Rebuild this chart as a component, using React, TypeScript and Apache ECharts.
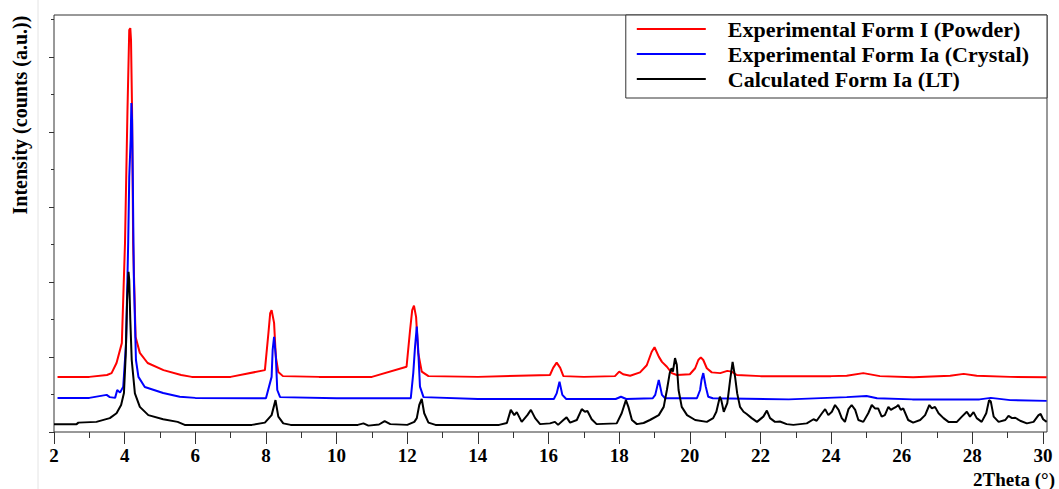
import React, { useEffect, useRef } from 'react';
import * as echarts from 'echarts';

const SERIES_NAMES = [
  'Experimental Form I (Powder)',
  'Experimental Form Ia (Crystal)',
  'Calculated Form Ia (LT)',
];
const SERIES_COLORS = ['#ff0000', '#0000ff', '#000000'];

const X_TITLE = '2Theta (°)';
const Y_TITLE = 'Intensity (counts (a.u.))';

// [2Theta, intensity (a.u.)]
const powderForm1: [number, number][] = [
  [2.1, 1.47], [3.0, 1.47], [3.5, 1.52], [3.63, 1.57], [3.77, 1.84], [3.92, 2.37], [4.01, 5.04],
  [4.08, 8.59], [4.13, 10.72], [4.16, 10.77], [4.18, 10.45], [4.21, 8.59], [4.24, 5.04], [4.31, 2.53],
  [4.43, 2.11], [4.65, 1.84], [5.1, 1.65], [5.6, 1.52], [5.9, 1.47], [7.0, 1.47], [7.97, 1.65],
  [8.07, 2.64], [8.12, 3.17], [8.16, 3.25], [8.23, 2.91], [8.28, 2.0], [8.35, 1.6], [8.48, 1.49],
  [9.5, 1.47], [11.0, 1.47], [11.98, 1.74], [12.08, 2.72], [12.14, 3.25], [12.19, 3.37], [12.25, 3.07],
  [12.31, 2.11], [12.41, 1.61], [12.6, 1.49], [14.0, 1.47], [16.04, 1.52], [16.13, 1.71], [16.23, 1.85],
  [16.33, 1.71], [16.42, 1.49], [17.0, 1.47], [17.88, 1.49], [18.0, 1.61], [18.11, 1.54], [18.31, 1.5],
  [18.59, 1.59], [18.78, 1.78], [18.92, 2.14], [19.0, 2.26], [19.12, 2.01], [19.21, 1.87], [19.35, 1.74],
  [19.49, 1.57], [19.63, 1.52], [20.0, 1.54], [20.15, 1.7], [20.24, 1.92], [20.31, 1.99], [20.38, 1.92],
  [20.48, 1.7], [20.62, 1.59], [20.86, 1.57], [21.06, 1.63], [21.18, 1.61], [21.33, 1.52], [22.0, 1.49],
  [22.84, 1.49], [24.0, 1.49], [24.44, 1.5], [24.91, 1.57], [25.38, 1.49], [26.32, 1.46], [27.37, 1.5],
  [27.75, 1.55], [28.12, 1.5], [29.07, 1.47], [30.1, 1.46],
];

const crystalForm1a: [number, number][] = [
  [2.1, 0.91], [3.0, 0.91], [3.49, 0.99], [3.58, 0.93], [3.73, 0.91], [3.79, 1.12], [3.87, 1.05],
  [3.96, 1.21], [4.04, 2.37], [4.1, 5.04], [4.13, 6.8], [4.17, 7.79], [4.19, 8.77], [4.21, 8.32],
  [4.23, 6.8], [4.26, 4.13], [4.32, 1.92], [4.39, 1.47], [4.57, 1.2], [5.09, 1.04], [5.56, 0.94],
  [6.0, 0.91], [8.0, 0.9], [8.16, 1.47], [8.19, 2.19], [8.23, 2.54], [8.28, 2.01], [8.32, 1.12],
  [8.4, 0.93], [10.0, 0.9], [12.1, 0.9], [12.17, 1.57], [12.22, 2.27], [12.27, 2.81], [12.31, 2.19],
  [12.36, 1.21], [12.46, 0.93], [14.0, 0.88], [16.15, 0.88], [16.23, 1.03], [16.31, 1.34], [16.39, 0.99],
  [16.5, 0.88], [17.9, 0.88], [18.05, 0.94], [18.2, 0.88], [18.95, 0.9], [19.02, 0.99], [19.12, 1.39],
  [19.21, 0.99], [19.3, 0.9], [20.2, 0.9], [20.29, 1.12], [20.33, 1.39], [20.38, 1.57], [20.45, 1.21],
  [20.52, 0.94], [20.65, 0.9], [22.8, 0.87], [24.44, 0.93], [25.0, 0.96], [25.3, 0.9], [26.3, 0.87],
  [28.2, 0.87], [28.52, 0.91], [29.07, 0.85], [30.1, 0.83],
];

const calculatedForm1a: [number, number][] = [
  [2.0, 0.21], [2.64, 0.21], [2.69, 0.25], [3.2, 0.27], [3.58, 0.37], [3.77, 0.5], [3.9, 0.72],
  [3.98, 1.04], [4.03, 2.05], [4.07, 3.52], [4.11, 4.27], [4.13, 4.05], [4.16, 2.99], [4.2, 1.92],
  [4.29, 1.03], [4.43, 0.67], [4.67, 0.45], [5.09, 0.34], [5.5, 0.27], [5.7, 0.19], [7.6, 0.19],
  [7.97, 0.25], [8.16, 0.45], [8.27, 0.85], [8.35, 0.41], [8.49, 0.23], [8.7, 0.19], [10.6, 0.19],
  [10.76, 0.23], [10.9, 0.17], [11.2, 0.2], [11.36, 0.29], [11.52, 0.21], [12.0, 0.19], [12.2, 0.27],
  [12.27, 0.37], [12.34, 0.72], [12.41, 0.88], [12.48, 0.5], [12.6, 0.25], [12.8, 0.19], [14.6, 0.19],
  [14.82, 0.24], [14.93, 0.59], [15.03, 0.45], [15.1, 0.53], [15.24, 0.27], [15.4, 0.45], [15.5, 0.59],
  [15.62, 0.37], [15.76, 0.21], [16.04, 0.23], [16.18, 0.27], [16.27, 0.19], [16.42, 0.32], [16.51, 0.39],
  [16.61, 0.25], [16.8, 0.32], [16.94, 0.61], [17.03, 0.54], [17.1, 0.56], [17.22, 0.34], [17.36, 0.21],
  [17.93, 0.23], [18.07, 0.5], [18.19, 0.85], [18.26, 0.67], [18.36, 0.32], [18.5, 0.21], [18.69, 0.24],
  [18.87, 0.32], [19.12, 0.45], [19.26, 0.67], [19.35, 1.12], [19.43, 1.57], [19.48, 1.7], [19.52, 1.61],
  [19.58, 1.97], [19.63, 1.79], [19.68, 1.12], [19.77, 0.67], [19.92, 0.45], [20.15, 0.32], [20.48, 0.27],
  [20.66, 0.37], [20.75, 0.54], [20.85, 0.94], [20.89, 0.85], [20.96, 0.54], [21.06, 0.77], [21.14, 1.39],
  [21.21, 1.87], [21.28, 1.47], [21.34, 1.03], [21.42, 0.67], [21.52, 0.54], [21.61, 0.48], [21.75, 0.37],
  [21.9, 0.27], [22.08, 0.41], [22.18, 0.57], [22.27, 0.37], [22.41, 0.27], [22.55, 0.28], [22.74, 0.21],
  [22.93, 0.19], [23.31, 0.23], [23.5, 0.34], [23.59, 0.3], [23.74, 0.5], [23.83, 0.61], [23.92, 0.45],
  [24.02, 0.54], [24.11, 0.72], [24.21, 0.59], [24.3, 0.37], [24.39, 0.27], [24.49, 0.61], [24.58, 0.72],
  [24.68, 0.59], [24.77, 0.32], [24.91, 0.27], [25.05, 0.5], [25.15, 0.72], [25.24, 0.63], [25.33, 0.63],
  [25.43, 0.41], [25.52, 0.45], [25.62, 0.67], [25.69, 0.59], [25.76, 0.63], [25.84, 0.67], [25.9, 0.72],
  [25.97, 0.59], [26.04, 0.63], [26.18, 0.32], [26.32, 0.25], [26.52, 0.32], [26.66, 0.45], [26.78, 0.72],
  [26.85, 0.63], [26.94, 0.67], [27.04, 0.5], [27.18, 0.37], [27.32, 0.27], [27.56, 0.27], [27.7, 0.41],
  [27.84, 0.54], [27.93, 0.41], [28.03, 0.53], [28.12, 0.37], [28.26, 0.27], [28.39, 0.5], [28.47, 0.85],
  [28.52, 0.81], [28.6, 0.41], [28.74, 0.27], [28.93, 0.32], [29.02, 0.43], [29.12, 0.37], [29.21, 0.38],
  [29.35, 0.3], [29.54, 0.23], [29.73, 0.27], [29.87, 0.45], [29.93, 0.48], [30.0, 0.34], [30.1, 0.27],
];

const SERIES_DATA = [powderForm1, crystalForm1a, calculatedForm1a];

const X_MIN = 2;
const X_MAX = 30.11;
const X_TICK_MAX = 30;
const X_TICK_STEP = 2;
const Y_MAX = 11.12;
const Y_MAJOR_MAX = 10;
const Y_MAJOR_STEP = 2;
const Y_MINOR_MAX = 11;
const Y_MINOR_STEP = 1;

const FONT = '"Liberation Serif", "Times New Roman", Times, serif';

export default function App() {
  const ref = useRef<HTMLDivElement>(null);

  useEffect(() => {
    if (!ref.current) return;
    const chart = echarts.init(ref.current, null, { renderer: 'svg' });
    const tickLine = { color: '#333', width: 1 };
    chart.setOption({
      animation: false,
      backgroundColor: '#ffffff',
      grid: [
        { left: 54, right: 12, top: 15, bottom: 57, show: true, borderColor: '#333', borderWidth: 1, backgroundColor: 'transparent' },
        { left: 54, right: 16, top: 57, bottom: 57 },
        { left: 54, right: 16, top: 19.5, bottom: 57 },
      ],
      xAxis: [
        { gridIndex: 0, type: 'value', min: X_MIN, max: X_MAX, show: false },
        {
          gridIndex: 1, type: 'value', min: X_MIN, max: X_TICK_MAX, interval: X_TICK_STEP,
          axisLine: { show: false },
          axisTick: { show: true, length: 12, lineStyle: tickLine },
          minorTick: { show: true, splitNumber: 2, length: 6, lineStyle: tickLine },
          splitLine: { show: false },
          axisLabel: { fontFamily: FONT, fontWeight: 'bold', fontSize: 19, color: '#000', margin: 14 },
        },
        { gridIndex: 2, type: 'value', min: X_MIN, max: X_TICK_MAX, show: false },
      ],
      yAxis: [
        { gridIndex: 0, type: 'value', min: 0, max: Y_MAX, show: false },
        {
          gridIndex: 1, type: 'value', min: 0, max: Y_MAJOR_MAX, interval: Y_MAJOR_STEP,
          axisLine: { show: false },
          axisTick: { show: true, length: 5, lineStyle: tickLine },
          axisLabel: { show: false },
          splitLine: { show: false },
        },
        {
          gridIndex: 2, type: 'value', min: 0, max: Y_MINOR_MAX, interval: Y_MINOR_STEP,
          axisLine: { show: false },
          axisTick: { show: true, length: 3, lineStyle: tickLine },
          axisLabel: { show: false },
          splitLine: { show: false },
        },
      ],
      legend: {
        orient: 'vertical',
        right: 12,
        top: 15,
        data: SERIES_NAMES,
        icon: 'rect',
        itemWidth: 69,
        itemHeight: 2,
        itemGap: 3,
        padding: [3, 18, 8, 11],
        borderColor: '#333',
        borderWidth: 1,
        backgroundColor: '#fff',
        selectedMode: false,
        textStyle: {
          fontFamily: FONT, fontWeight: 'bold', fontSize: 22, color: '#000',
          lineHeight: 22, padding: [0, 0, 0, 17],
        },
      },
      series: SERIES_NAMES.map((name, i) => ({
        name,
        type: 'line',
        xAxisIndex: 0,
        yAxisIndex: 0,
        data: SERIES_DATA[i],
        showSymbol: false,
        symbol: 'none',
        lineStyle: { color: SERIES_COLORS[i], width: 2 },
        itemStyle: { color: SERIES_COLORS[i] },
        z: 2 + i,
      })),
      graphic: [
        {
          type: 'line', z: 0,
          shape: { x1: 38, y1: 0, x2: 38, y2: 489 },
          style: { stroke: '#e4e4e4', lineWidth: 1 },
        },
        {
          type: 'text',
          x: 20, y: 115, rotation: Math.PI / 2,
          style: {
            text: Y_TITLE, fill: '#000', fontFamily: FONT, fontWeight: 'bold', fontSize: 20,
            align: 'center', verticalAlign: 'middle', textAlign: 'center', textVerticalAlign: 'middle',
          },
        },
        {
          type: 'text',
          x: 1055, y: 479,
          style: {
            text: X_TITLE, fill: '#000', fontFamily: FONT, fontWeight: 'bold', fontSize: 19,
            align: 'right', verticalAlign: 'middle', textAlign: 'right', textVerticalAlign: 'middle',
          },
        },
      ],
    });
    return () => chart.dispose();
  }, []);

  return (
    <div
      ref={ref}
      style={{ position: 'absolute', left: 0, top: 0, width: 1059, height: 489, background: '#fff' }}
    />
  );
}
